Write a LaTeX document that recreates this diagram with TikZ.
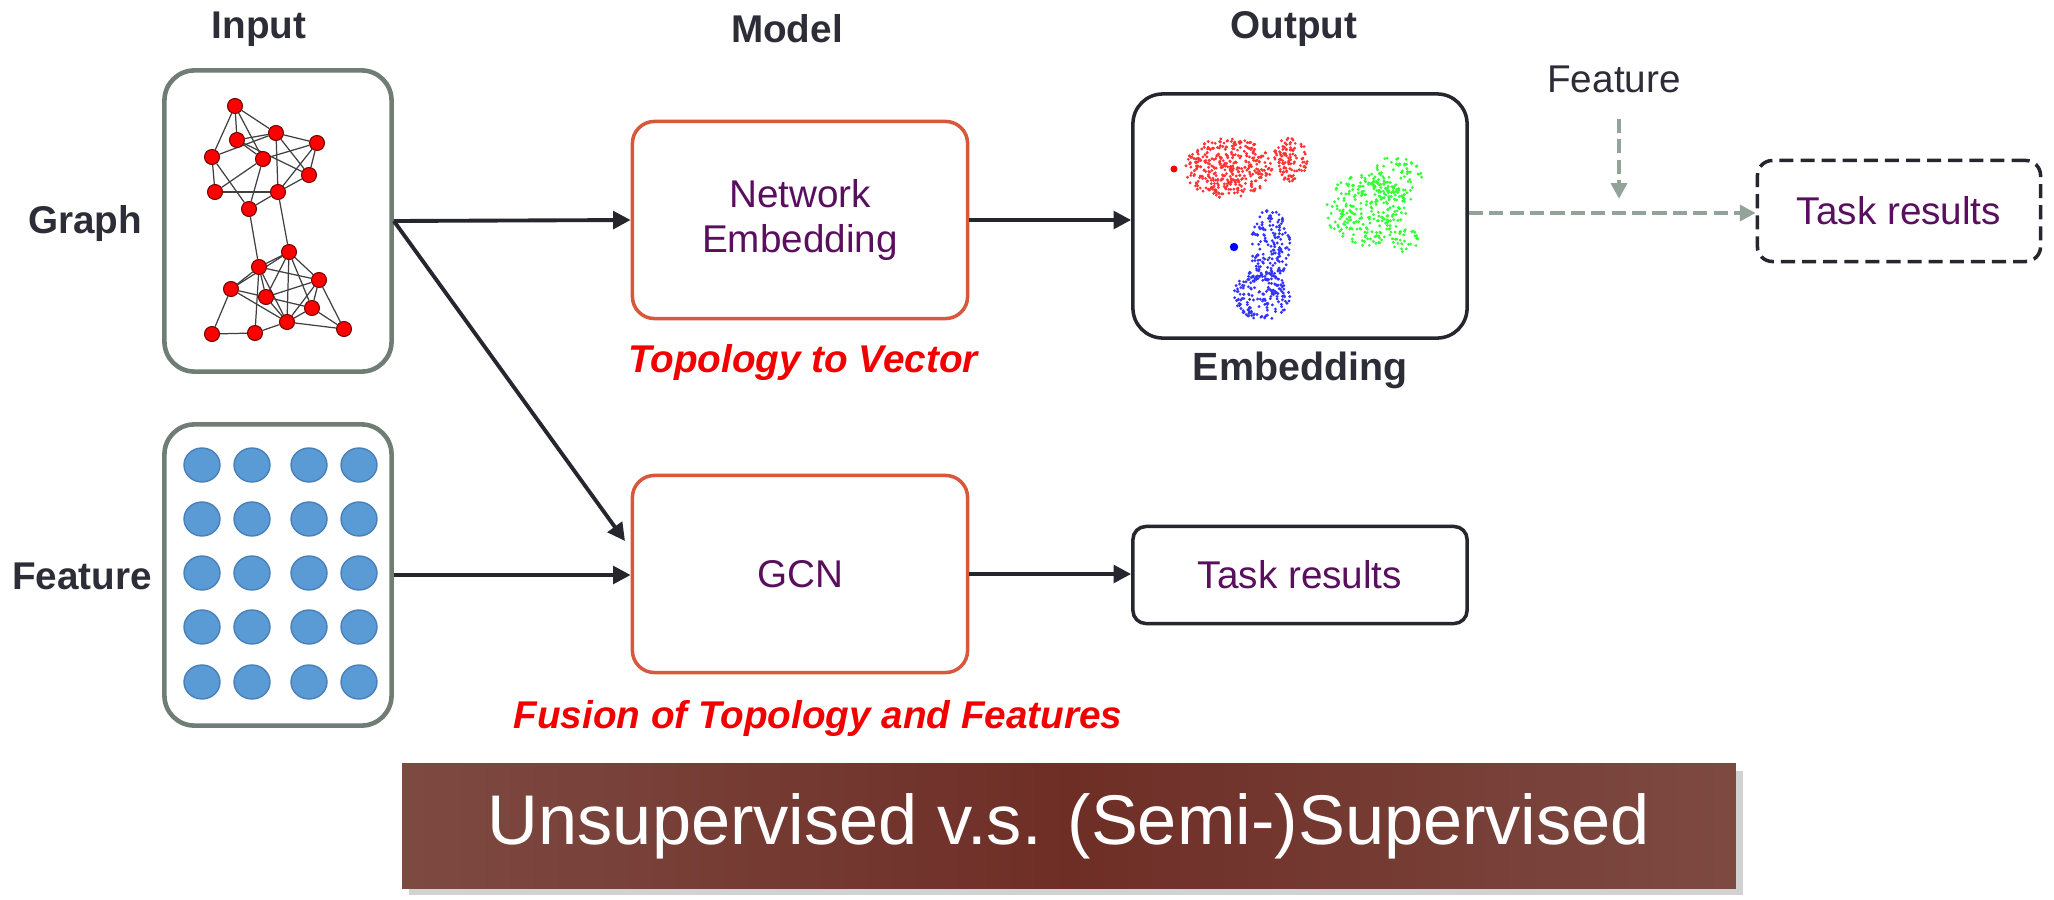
\documentclass[tikz,border=0pt]{standalone}
\usepackage{fontspec}
\setmainfont{Liberation Sans}
\usepackage{tikz}
\usetikzlibrary{arrows.meta}
\usetikzlibrary{shadows}
\usetikzlibrary{backgrounds}
\usepackage{xcolor}

\definecolor{labelgray}{HTML}{2D2D38}
\definecolor{boxgreen}{HTML}{6F7D74}
\definecolor{modelorange}{HTML}{D8583C}
\definecolor{textpurple}{HTML}{5A0F5E}
\definecolor{darkline}{HTML}{26262F}
\definecolor{hintgray}{HTML}{93A39A}
\definecolor{dotblue}{HTML}{5B9BD5}
\definecolor{dotrim}{HTML}{4A80B8}
\definecolor{bannerL}{HTML}{7D4A42}
\definecolor{bannerM}{HTML}{6E2E26}

\begin{document}
\begin{tikzpicture}[x=0.01cm,y=-0.01cm,
  font=\fontsize{11}{13}\selectfont,
  heading/.style={text=labelgray,font=\fontsize{11}{13}\selectfont\bfseries},
  inbox/.style={draw=boxgreen,line width=1.3pt,rounded corners=0.3cm,
    minimum width=2.27cm,minimum height=3.01cm},
  modelbox/.style={draw=modelorange,line width=1pt,rounded corners=0.22cm,
    text=textpurple,align=center,minimum width=3.35cm,minimum height=1.97cm},
  outbox/.style={draw=darkline,line width=1pt,text=textpurple,minimum width=3.34cm},
  note/.style={text=red!95!black,font=\fontsize{11}{13}\selectfont\bfseries\itshape},
  flow/.style={-{Triangle[length=5pt,width=5pt]},line width=1.1pt,draw=darkline},
  hint/.style={-{Triangle[length=4.5pt,width=4.5pt]},line width=1.1pt,draw=hintgray,
    dash pattern=on 4pt off 1.8pt},
  gnode/.style={circle,fill=red,draw=red!45!black,line width=0.3pt,
    inner sep=0pt,minimum size=0.15cm},
  gedge/.style={draw=black!75,line width=0.35pt},
  banner/.style={left color=bannerL,right color=bannerL,middle color=bannerM,
    text=white,font=\fontsize{20}{24}\selectfont,
    minimum width=13.33cm,minimum height=1.24cm,
    drop shadow={shadow xshift=2pt,shadow yshift=-2pt,fill=black!35}}
]
\useasboundingbox (0,0) rectangle (2054,900);

% column titles
\node[heading] (tin) at (259,29) {Input};
\node[heading] (tmod) at (787,29) {Model};
\node[heading] (tout) at (1294,29) {Output};

% inputs
\node[heading] (lgraph) at (85,223) {Graph};
\node[heading] (lfeat) at (82,576) {Feature};
\node[inbox] (g) at (278,221) {};
\node[inbox] (f) at (278,575) {};

% the small graph
\foreach \n/\x/\y in {1/235/106,2/237/140,3/276/133,4/317/143,5/212/157,
  6/263/159,7/309/175,8/215/192,9/278/192,10/249/209,11/289/252,12/259/267,
  13/319/280,14/231/289,15/266/297,16/312/308,17/287/322,18/212/334,
  19/255/333,20/344/329}
  \node[gnode] (n\n) at (\x,\y) {};
\begin{scope}[on background layer]
\foreach \a/\b in {1/2,1/3,1/5,1/6,2/3,2/7,3/4,3/9,3/7,4/6,4/7,4/9,5/3,
  5/8,5/10,6/10,6/8,8/9,9/10,9/7,2/6,
  10/12,9/11,
  11/12,11/14,11/15,11/16,11/17,12/14,12/13,12/15,12/17,12/19,13/15,
  13/16,13/20,13/17,14/18,14/15,14/17,15/16,15/17,16/17,16/20,17/19,
  18/19,17/20,11/13}
  \draw[gedge] (n\a) -- (n\b);
\end{scope}

% feature matrix
\foreach \x in {202,252,309,359}
  \foreach \y in {465,519,573,627,682}
    \draw[fill=dotblue,draw=dotrim,line width=0.4pt] (\x,\y) ellipse [x radius=18,y radius=17];

% models
\node[modelbox] (ne) at (800,220) {Network\\Embedding};
\node[modelbox] (gcn) at (800,574) {GCN};
\node[note] (topo) at (803,362) {Topology to Vector};
\node[note] (fuse) at (818,718) {Fusion of Topology and Features};

% outputs
\node[outbox,rounded corners=0.3cm,minimum height=2.44cm] (emb) at (1300,216) {};
\node[heading,font=\fontsize{11.2}{13}\selectfont\bfseries] (lemb) at (1300,370) {Embedding};
\node[outbox,rounded corners=0.13cm,minimum height=0.97cm] (task) at (1300,575) {Task results};
\node[outbox,dash pattern=on 4pt off 2pt,rounded corners=0.15cm,
  minimum width=2.83cm,minimum height=1.01cm] (task2) at (1899,211) {Task results};
\node[text=labelgray] (ftop) at (1614,79) {Feature};

% embedding scatter
\pgfmathsetseed{11}
\foreach \cx/\cy/\a/\b/\k/\c in {1228/168/44/30/380/red,1290/160/18/22/110/red,
  1366/210/40/36/250/green,1396/180/26/24/90/green,1405/240/14/12/30/green,
  1270/245/20/36/160/blue,1262/295/28/27/180/blue}
{
  \foreach \i in {1,...,\k}{
    \pgfmathsetmacro\ang{360*rnd}
    \pgfmathsetmacro\rr{sqrt(rnd)}
    \fill[\c!80!white] ({\cx+\a*\rr*cos(\ang)},{\cy+\b*\rr*sin(\ang)}) circle[radius=0.45pt];
  }
}
\fill[red] (1174,169) circle[radius=1pt];
\fill[blue] (1234,247) circle[radius=1.2pt];

% connectors
\coordinate (gin) at (625,541);
\coordinate (hit) at (1619,213);
\draw[flow] (g.east) -- (ne.west);
\draw[flow] (g.east) -- (gin);
\draw[flow] (f.east) -- (f.east -| gcn.west);
\draw[flow] (ne.east) -- (ne.east -| emb.west);
\draw[flow] (gcn.east) -- (gcn.east -| task.west);
\draw[hint] (emb.east |- hit) -- (task2.west |- hit);
\draw[hint] (ftop.south -| hit) ++(0,14) -- ([yshift=4pt]hit);

% bottom banner
\node[banner] (bn) at (1069,826) {Unsupervised v.s. (Semi-)Supervised};

\end{tikzpicture}
\end{document}
